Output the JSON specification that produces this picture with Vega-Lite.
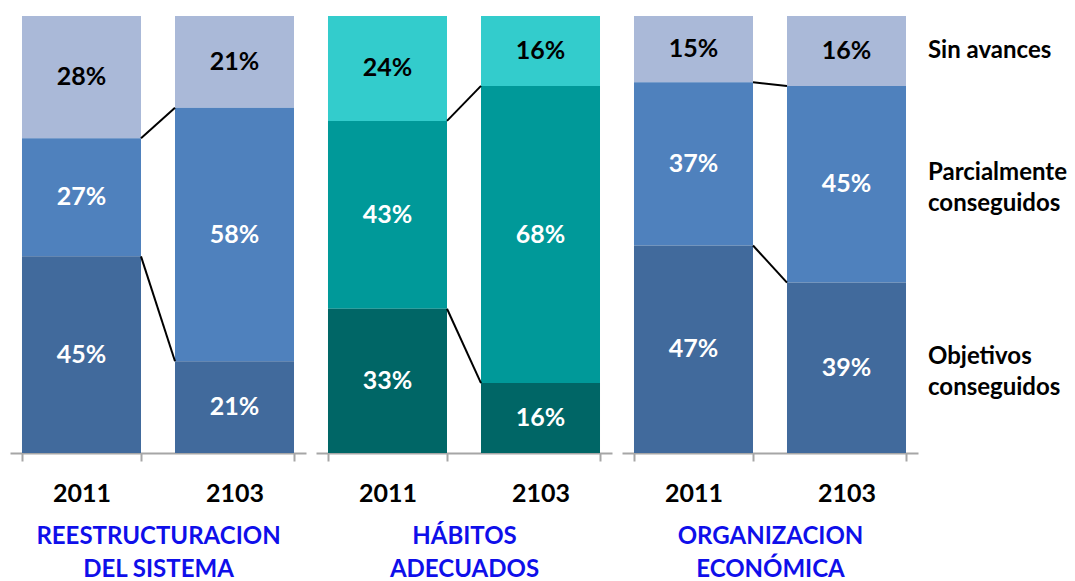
{
  "$schema": "https://vega.github.io/schema/vega-lite/v6.json",
  "padding": {"left": 10, "top": 16, "right": 5, "bottom": 5},
  "background": "white",
  "spacing": 10,
  "config": {"view": {"stroke": null}, "font": "Lato"},
  "data": {"values": [
    {"group": "REESTRUCTURACION DEL SISTEMA", "year": "2011", "cat": "Sin avances", "value": 0.28},
    {"group": "REESTRUCTURACION DEL SISTEMA", "year": "2011", "cat": "Parcialmente conseguidos", "value": 0.27},
    {"group": "REESTRUCTURACION DEL SISTEMA", "year": "2011", "cat": "Objetivos conseguidos", "value": 0.45},
    {"group": "REESTRUCTURACION DEL SISTEMA", "year": "2103", "cat": "Sin avances", "value": 0.21},
    {"group": "REESTRUCTURACION DEL SISTEMA", "year": "2103", "cat": "Parcialmente conseguidos", "value": 0.58},
    {"group": "REESTRUCTURACION DEL SISTEMA", "year": "2103", "cat": "Objetivos conseguidos", "value": 0.21},
    {"group": "HÁBITOS ADECUADOS", "year": "2011", "cat": "Sin avances", "value": 0.24},
    {"group": "HÁBITOS ADECUADOS", "year": "2011", "cat": "Parcialmente conseguidos", "value": 0.43},
    {"group": "HÁBITOS ADECUADOS", "year": "2011", "cat": "Objetivos conseguidos", "value": 0.33},
    {"group": "HÁBITOS ADECUADOS", "year": "2103", "cat": "Sin avances", "value": 0.16},
    {"group": "HÁBITOS ADECUADOS", "year": "2103", "cat": "Parcialmente conseguidos", "value": 0.68},
    {"group": "HÁBITOS ADECUADOS", "year": "2103", "cat": "Objetivos conseguidos", "value": 0.16},
    {"group": "ORGANIZACION ECONÓMICA", "year": "2011", "cat": "Sin avances", "value": 0.15},
    {"group": "ORGANIZACION ECONÓMICA", "year": "2011", "cat": "Parcialmente conseguidos", "value": 0.37},
    {"group": "ORGANIZACION ECONÓMICA", "year": "2011", "cat": "Objetivos conseguidos", "value": 0.47},
    {"group": "ORGANIZACION ECONÓMICA", "year": "2103", "cat": "Sin avances", "value": 0.16},
    {"group": "ORGANIZACION ECONÓMICA", "year": "2103", "cat": "Parcialmente conseguidos", "value": 0.45},
    {"group": "ORGANIZACION ECONÓMICA", "year": "2103", "cat": "Objetivos conseguidos", "value": 0.39}
  ]},
  "hconcat": [
    {
      "width": 296, "height": 437,
      "transform": [{"filter": "datum.group == 'REESTRUCTURACION DEL SISTEMA'"}],
      "layer": [
        {
          "mark": {"type": "bar"},
          "encoding": {
            "x": {"field": "year", "type": "nominal", "scale": {"domain": ["2011", "2103"], "paddingInner": 0.2222, "paddingOuter": 0.0784},
              "axis": {"title": ["REESTRUCTURACION", "DEL SISTEMA"], "labelAngle": 0, "labelFontSize": 25, "labelFontWeight": "bold", "labelColor": "black", "tickBand": "extent", "tickSize": 8, "tickColor": "#A6A6A6", "tickWidth": 2, "domainColor": "#A6A6A6", "domainWidth": 2, "labelPadding": 20, "titleFontSize": 24, "titleFontWeight": "bold", "titleColor": "#0F0FEA", "titlePadding": 18, "titleLineHeight": 33}},
            "y": {"field": "value", "type": "quantitative", "stack": "normalize", "axis": null},
            "color": {"field": "cat", "type": "nominal", "scale": {"domain": ["Sin avances", "Parcialmente conseguidos", "Objetivos conseguidos"], "range": ["#AAB9D8", "#4F81BD", "#416A9C"]}, "legend": null},
            "order": {"field": "cat", "sort": "ascending"}
          }
        },
        {
          "mark": {"type": "text", "fontSize": 25, "fontWeight": "bold", "baseline": "middle"},
          "encoding": {
            "x": {"field": "year", "type": "nominal"},
            "y": {"field": "value", "type": "quantitative", "stack": "normalize", "bandPosition": 0.5},
            "detail": {"field": "cat"},
            "order": {"field": "cat", "sort": "ascending"},
            "text": {"field": "value", "type": "quantitative", "format": ".0%"},
            "color": {"condition": {"test": "datum.cat == 'Sin avances'", "value": "black"}, "value": "white"}
          }
        },
        {
          "transform": [
            {"stack": "value", "groupby": ["year"], "sort": [{"field": "cat", "order": "ascending"}], "offset": "normalize", "as": ["s0", "s1"]},
            {"filter": "datum.cat != 'Sin avances'"},
            {"pivot": "year", "value": "s1", "groupby": ["cat"]}
          ],
          "mark": {"type": "rule", "color": "black", "strokeWidth": 2},
          "encoding": {
            "x": {"datum": "2011", "type": "nominal", "bandPosition": 1},
            "x2": {"datum": "2103", "bandPosition": 0},
            "y": {"field": "2011", "type": "quantitative"},
            "y2": {"field": "2103"}
          }
        }
      ]
    },
    {
      "width": 296, "height": 437,
      "transform": [{"filter": "datum.group == 'HÁBITOS ADECUADOS'"}],
      "layer": [
        {
          "mark": {"type": "bar"},
          "encoding": {
            "x": {"field": "year", "type": "nominal", "scale": {"domain": ["2011", "2103"], "paddingInner": 0.2222, "paddingOuter": 0.0784},
              "axis": {"title": ["HÁBITOS", "ADECUADOS"], "labelAngle": 0, "labelFontSize": 25, "labelFontWeight": "bold", "labelColor": "black", "tickBand": "extent", "tickSize": 8, "tickColor": "#A6A6A6", "tickWidth": 2, "domainColor": "#A6A6A6", "domainWidth": 2, "labelPadding": 20, "titleFontSize": 24, "titleFontWeight": "bold", "titleColor": "#0F0FEA", "titlePadding": 18, "titleLineHeight": 33}},
            "y": {"field": "value", "type": "quantitative", "stack": "normalize", "axis": null},
            "color": {"field": "cat", "type": "nominal", "scale": {"domain": ["Sin avances", "Parcialmente conseguidos", "Objetivos conseguidos"], "range": ["#33CCCC", "#009999", "#006666"]}, "legend": null},
            "order": {"field": "cat", "sort": "ascending"}
          }
        },
        {
          "mark": {"type": "text", "fontSize": 25, "fontWeight": "bold", "baseline": "middle"},
          "encoding": {
            "x": {"field": "year", "type": "nominal"},
            "y": {"field": "value", "type": "quantitative", "stack": "normalize", "bandPosition": 0.5},
            "detail": {"field": "cat"},
            "order": {"field": "cat", "sort": "ascending"},
            "text": {"field": "value", "type": "quantitative", "format": ".0%"},
            "color": {"condition": {"test": "datum.cat == 'Sin avances'", "value": "black"}, "value": "white"}
          }
        },
        {
          "transform": [
            {"stack": "value", "groupby": ["year"], "sort": [{"field": "cat", "order": "ascending"}], "offset": "normalize", "as": ["s0", "s1"]},
            {"filter": "datum.cat != 'Sin avances'"},
            {"pivot": "year", "value": "s1", "groupby": ["cat"]}
          ],
          "mark": {"type": "rule", "color": "black", "strokeWidth": 2},
          "encoding": {
            "x": {"datum": "2011", "type": "nominal", "bandPosition": 1},
            "x2": {"datum": "2103", "bandPosition": 0},
            "y": {"field": "2011", "type": "quantitative"},
            "y2": {"field": "2103"}
          }
        }
      ]
    },
    {
      "width": 296, "height": 437,
      "transform": [{"filter": "datum.group == 'ORGANIZACION ECONÓMICA'"}],
      "layer": [
        {
          "mark": {"type": "bar"},
          "encoding": {
            "x": {"field": "year", "type": "nominal", "scale": {"domain": ["2011", "2103"], "paddingInner": 0.2222, "paddingOuter": 0.0784},
              "axis": {"title": ["ORGANIZACION", "ECONÓMICA"], "labelAngle": 0, "labelFontSize": 25, "labelFontWeight": "bold", "labelColor": "black", "tickBand": "extent", "tickSize": 8, "tickColor": "#A6A6A6", "tickWidth": 2, "domainColor": "#A6A6A6", "domainWidth": 2, "labelPadding": 20, "titleFontSize": 24, "titleFontWeight": "bold", "titleColor": "#0F0FEA", "titlePadding": 18, "titleLineHeight": 33}},
            "y": {"field": "value", "type": "quantitative", "stack": "normalize", "axis": null},
            "color": {"field": "cat", "type": "nominal", "scale": {"domain": ["Sin avances", "Parcialmente conseguidos", "Objetivos conseguidos"], "range": ["#AAB9D8", "#4F81BD", "#416A9C"]}, "legend": null},
            "order": {"field": "cat", "sort": "ascending"}
          }
        },
        {
          "mark": {"type": "text", "fontSize": 25, "fontWeight": "bold", "baseline": "middle"},
          "encoding": {
            "x": {"field": "year", "type": "nominal"},
            "y": {"field": "value", "type": "quantitative", "stack": "normalize", "bandPosition": 0.5},
            "detail": {"field": "cat"},
            "order": {"field": "cat", "sort": "ascending"},
            "text": {"field": "value", "type": "quantitative", "format": ".0%"},
            "color": {"condition": {"test": "datum.cat == 'Sin avances'", "value": "black"}, "value": "white"}
          }
        },
        {
          "transform": [
            {"stack": "value", "groupby": ["year"], "sort": [{"field": "cat", "order": "ascending"}], "offset": "normalize", "as": ["s0", "s1"]},
            {"filter": "datum.cat != 'Sin avances'"},
            {"pivot": "year", "value": "s1", "groupby": ["cat"]}
          ],
          "mark": {"type": "rule", "color": "black", "strokeWidth": 2},
          "encoding": {
            "x": {"datum": "2011", "type": "nominal", "bandPosition": 1},
            "x2": {"datum": "2103", "bandPosition": 0},
            "y": {"field": "2011", "type": "quantitative"},
            "y2": {"field": "2103"}
          }
        },
        {
          "transform": [{"filter": "datum.year == '2103'"}],
          "mark": {"type": "text", "fontSize": 24, "fontWeight": "bold", "align": "left", "baseline": "middle", "dx": 22, "dy": {"expr": "datum.cat == 'Sin avances' ? 0 : -11"}, "lineHeight": 31, "color": "black"},
          "encoding": {
            "x": {"field": "year", "type": "nominal", "bandPosition": 1},
            "y": {"field": "value", "type": "quantitative", "stack": "normalize", "bandPosition": 0.5},
            "detail": {"field": "cat"},
            "order": {"field": "cat", "sort": "ascending"},
            "text": {"condition": [
              {"test": "datum.cat == 'Parcialmente conseguidos'", "value": ["Parcialmente", "conseguidos"]},
              {"test": "datum.cat == 'Objetivos conseguidos'", "value": ["Objetivos", "conseguidos"]}
            ], "field": "cat", "type": "nominal"}
          }
        }
      ]
    }
  ],
  "resolve": {"scale": {"color": "independent", "x": "independent", "y": "independent"}}
}
